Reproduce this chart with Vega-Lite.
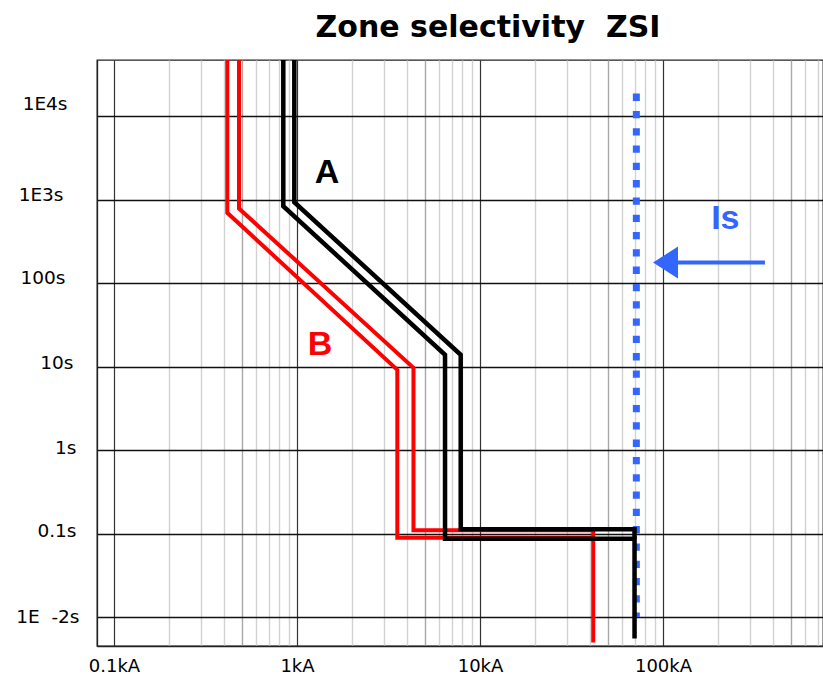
{
  "$schema": "https://vega.github.io/schema/vega-lite/v6.json",
  "width": 726,
  "height": 586,
  "autosize": "none",
  "padding": {"left": 97, "top": 60, "right": 0, "bottom": 29},
  "background": "white",
  "title": {"text": "Zone selectivity\u00a0\u00a0ZSI", "font": "DejaVu Sans", "fontSize": 30, "fontWeight": "bold", "color": "black", "anchor": "middle", "dx": 28, "dy": 29, "offset": 22, "baseline": "alphabetic"},
  "config": {
    "view": {"stroke": "#222", "strokeWidth": 1.3},
    "axis": {"ticks": false, "tickSize": 0, "domain": true, "domainColor": "#222", "domainWidth": 1.3, "labelColor": "black", "labelFont": "DejaVu Sans", "title": null, "grid": true}
  },
  "datasets": {
    "curves": [
      {"c": "Is", "o": 1, "x": 71.5, "y": 18560},
      {"c": "Is", "o": 2, "x": 71.5, "y": 0.0101},
      {"c": "B1", "o": 1, "x": 0.4159, "y": 47000},
      {"c": "B1", "o": 2, "x": 0.4159, "y": 695},
      {"c": "B1", "o": 3, "x": 3.533, "y": 9.18},
      {"c": "B1", "o": 4, "x": 3.533, "y": 0.0894},
      {"c": "B1", "o": 5, "x": 41.56, "y": 0.0894},
      {"c": "B2", "o": 1, "x": 0.482, "y": 47000},
      {"c": "B2", "o": 2, "x": 0.482, "y": 782},
      {"c": "B2", "o": 3, "x": 4.33, "y": 9.7},
      {"c": "B2", "o": 4, "x": 4.33, "y": 0.1101},
      {"c": "B2", "o": 5, "x": 41.56, "y": 0.1101},
      {"c": "B2", "o": 6, "x": 41.56, "y": 0.00499},
      {"c": "A1", "o": 1, "x": 0.8416, "y": 47000},
      {"c": "A1", "o": 2, "x": 0.8416, "y": 833.6},
      {"c": "A1", "o": 3, "x": 6.44, "y": 13.89},
      {"c": "A1", "o": 4, "x": 6.44, "y": 0.087},
      {"c": "A1", "o": 5, "x": 69.9, "y": 0.087},
      {"c": "A1", "o": 6, "x": 69.9, "y": 0.00557},
      {"c": "A2", "o": 1, "x": 0.9666, "y": 47000},
      {"c": "A2", "o": 2, "x": 0.9666, "y": 930.5},
      {"c": "A2", "o": 3, "x": 7.844, "y": 13.89},
      {"c": "A2", "o": 4, "x": 7.844, "y": 0.1128},
      {"c": "A2", "o": 5, "x": 69.9, "y": 0.1128},
      {"c": "A2", "o": 6, "x": 69.9, "y": 0.087}
    ],
    "labels": [
      {"t": "A", "x": 1.458, "y": 2073},
      {"t": "B", "x": 1.336, "y": 18.16},
      {"t": "Is", "x": 219, "y": 590}
    ]
  },
  "encoding": {
    "x": {
      "field": "x", "type": "quantitative",
      "scale": {"type": "log", "domain": [0.08074, 748.7], "nice": false, "zero": false},
      "axis": {
        "orient": "bottom",
        "values": [0.1,0.2,0.3,0.4,0.5,0.6,0.7,0.8,0.9,1,2,3,4,5,6,7,8,9,10,20,30,40,50,60,70,80,90,100,200,300,400,500,600,700],
        "labelExpr": "datum.value == 0.1 ? '0.1kA' : datum.value == 1 ? '1kA' : datum.value == 10 ? '10kA' : datum.value == 100 ? '100kA' : ''",
        "labelFontSize": 18,
        "labelPadding": 11,
        "labelBaseline": "top",
        "labelAlign": "center",
        "labelOverlap": false,
        "labelBound": false,
        "labelFlush": false,
        "gridColor": {"condition": [{"test": "indexof([0.1,1,10,100], datum.value) >= 0", "value": "#333333"}, {"test": "indexof([0.5,5,50,500], datum.value) >= 0", "value": "#a8a8a8"}], "value": "#d2d2d2"},
        "gridWidth": {"condition": {"test": "indexof([0.1,1,10,100], datum.value) >= 0", "value": 1.2}, "value": 1.4}
      }
    },
    "y": {
      "field": "y", "type": "quantitative",
      "scale": {"type": "log", "domain": [0.004531, 46850], "nice": false, "zero": false},
      "axis": {
        "orient": "left",
        "values": [0.01, 0.1, 1, 10, 100, 1000, 10000],
        "labelExpr": "datum.value == 10000 ? '1E4s' : datum.value == 1000 ? '1E3s' : datum.value == 100 ? '100s' : datum.value == 10 ? '10s' : datum.value == 1 ? '1s' : datum.value == 0.1 ? '0.1s' : '1E\u00a0\u00a0-2s'",
        "labelFontSize": 18.5,
        "labelAlign": "right",
        "labelBaseline": "middle",
        "labelOverlap": false,
        "labelBound": false,
        "labelFlush": false,
        "labelPadding": {"condition": [
          {"test": "datum.value == 10000", "value": 30},
          {"test": "datum.value == 1000", "value": 34},
          {"test": "datum.value == 100", "value": 32},
          {"test": "datum.value == 10", "value": 24},
          {"test": "datum.value == 1", "value": 21},
          {"test": "datum.value == 0.1", "value": 21}
        ], "value": 18},
        "labelOffset": {"condition": [
          {"test": "datum.value == 10000", "value": -13},
          {"test": "datum.value == 1000", "value": -5.5},
          {"test": "datum.value == 100", "value": -5.5},
          {"test": "datum.value == 10", "value": -4.6},
          {"test": "datum.value == 1", "value": -2.8},
          {"test": "datum.value == 0.1", "value": -3.2}
        ], "value": -0.6},
        "gridColor": "#111111",
        "gridWidth": 1.3
      }
    }
  },
  "layer": [
    {
      "data": {"name": "curves"},
      "transform": [{"filter": "datum.c == 'Is'"}],
      "mark": {"type": "line", "color": "#3366ff", "strokeWidth": 7, "strokeDash": [7.3, 10], "strokeCap": "butt", "clip": true},
      "encoding": {"order": {"field": "o", "type": "quantitative"}}
    },
    {
      "data": {"name": "curves"},
      "transform": [{"filter": "datum.c == 'B1' || datum.c == 'B2'"}],
      "mark": {"type": "line", "color": "#ff0000", "strokeWidth": 4, "strokeJoin": "miter", "clip": true},
      "encoding": {"detail": {"field": "c", "type": "nominal"}, "order": {"field": "o", "type": "quantitative"}}
    },
    {
      "data": {"name": "curves"},
      "transform": [{"filter": "datum.c == 'A1' || datum.c == 'A2'"}],
      "mark": {"type": "line", "color": "#000000", "strokeWidth": 4.5, "strokeJoin": "miter", "clip": true},
      "encoding": {"detail": {"field": "c", "type": "nominal"}, "order": {"field": "o", "type": "quantitative"}}
    },
    {
      "data": {"values": [{"x": 120.8, "x2": 360.6, "y": 176.1}]},
      "mark": {"type": "rule", "color": "#3366ff", "strokeWidth": 4},
      "encoding": {"x2": {"field": "x2"}}
    },
    {
      "data": {"values": [{"x": 103.2, "y": 176.1}]},
      "mark": {"type": "point", "shape": "M -0.78 0 L 0.78 -1 L 0.78 1 Z", "filled": true, "color": "#3366ff", "opacity": 1, "size": 1024, "strokeWidth": 0}
    },
    {
      "data": {"name": "labels"},
      "mark": {"type": "text", "font": "Liberation Sans", "fontWeight": "bold", "fontSize": 34, "baseline": "middle", "align": "center"},
      "encoding": {
        "text": {"field": "t", "type": "nominal"},
        "color": {"field": "t", "type": "nominal", "scale": {"domain": ["A", "B", "Is"], "range": ["#000000", "#ff0000", "#3366ff"]}, "legend": null}
      }
    }
  ]
}
